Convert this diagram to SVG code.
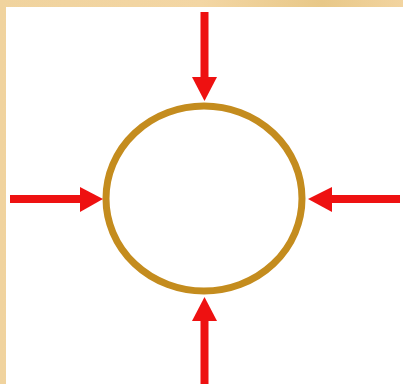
<svg xmlns="http://www.w3.org/2000/svg" width="403" height="384" viewBox="0 0 403 384">
<defs>
<linearGradient id="bg" x1="0" y1="0" x2="1" y2="0">
<stop offset="0" stop-color="#F0D39E"/>
<stop offset="0.5" stop-color="#F3D6A4"/>
<stop offset="0.8" stop-color="#E8C888"/>
<stop offset="1" stop-color="#F2D4A0"/>
</linearGradient>
<style>
.shaft{stroke:#EE1111;stroke-width:8;fill:none}
.head{fill:#EE1111}
.ring{fill:#FFFFFF;stroke:#C48C1E;stroke-width:7}
</style>
</defs>
<rect x="0" y="0" width="403" height="384" fill="url(#bg)"/>
<rect x="6" y="7" width="397" height="377" fill="#FFFFFF"/>
<g id="circle">
<ellipse class="ring" cx="204" cy="198.5" rx="98" ry="92.5"/>
</g>
<g id="connectors">
<line class="shaft" x1="204.5" y1="12" x2="204.5" y2="80"/>
<polygon class="head" points="192,77 217,77 204.5,101"/>
<line class="shaft" x1="204.5" y1="384" x2="204.5" y2="318"/>
<polygon class="head" points="192,321 217,321 204.5,297"/>
<line class="shaft" x1="10" y1="199" x2="82" y2="199"/>
<polygon class="head" points="80,187 80,212 103,199"/>
<line class="shaft" x1="400" y1="199" x2="330" y2="199"/>
<polygon class="head" points="332,187 332,212 308,199"/>
</g>
</svg>
